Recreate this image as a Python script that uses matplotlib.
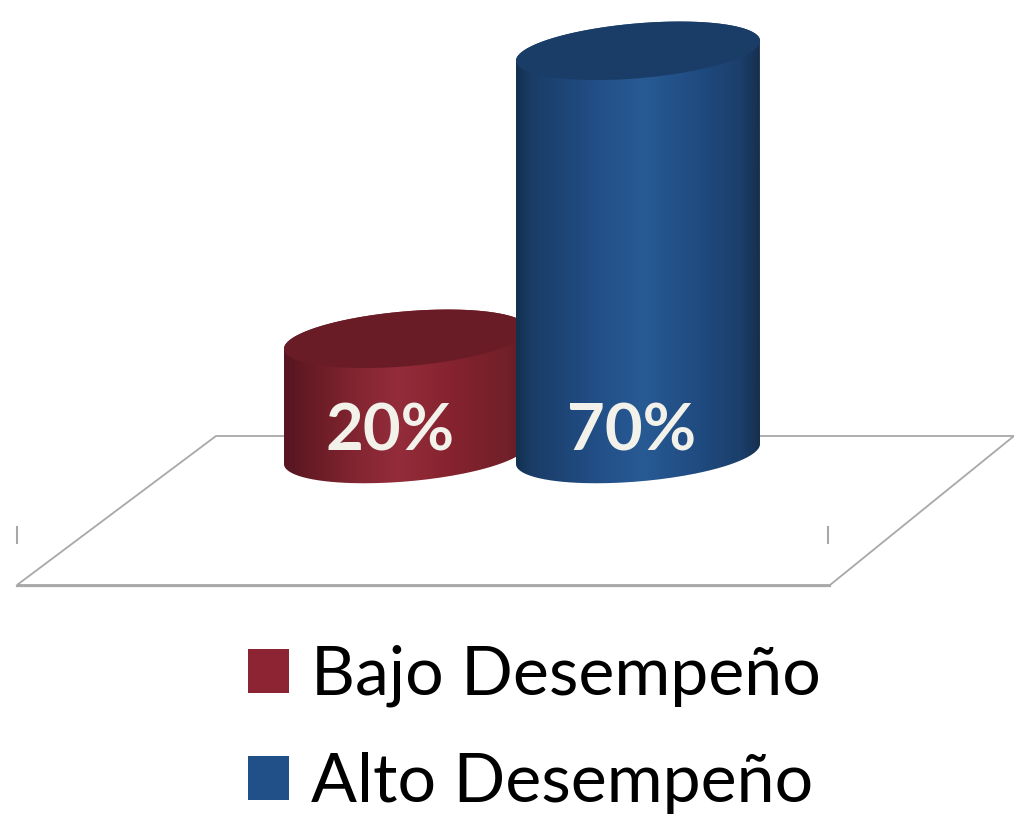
import numpy as np
import matplotlib
matplotlib.use("Agg")
import matplotlib.pyplot as plt
from matplotlib.colors import LinearSegmentedColormap
from matplotlib.patches import Polygon, Patch
from matplotlib.path import Path
from matplotlib.patches import PathPatch

categories = ["Bajo Desempeño", "Alto Desempeño"]
values = [20, 70]
value_labels = ["20%", "70%"]

plt.rcParams["font.family"] = ["Lato", "DejaVu Sans"]

W, H = 1014, 814
BASE_PX = 454
PX_PER_UNIT = 5.76


def Y(px):
    """Figure pixel row -> value units on the y axis."""
    return (BASE_PX - px) / PX_PER_UNIT


fig = plt.figure(figsize=(W / 100, H / 100), dpi=100, facecolor="white")
ax = fig.add_axes([0, 0, 1, 1])
ax.axis("off")

# Floor of the 3-D chart
floor_color = "#a8a8a8"
floor = [(17, 585), (830, 585), (1014, 436), (216, 436)]
ax.add_patch(Polygon([(x, Y(y)) for x, y in floor], closed=True, fill=False,
                     edgecolor=floor_color, linewidth=1.3, zorder=1))
ax.plot([17, 830], [Y(585.5)] * 2, color=floor_color, lw=1.6, zorder=1)
for xt in (17, 828):
    ax.plot([xt, xt], [Y(527), Y(543)], color=floor_color, lw=1.5, zorder=1)

centers = [406, 638]
half_widths = [122, 122]
shear_px = [10, 10]
label_offsets = [-16, -6]
half_minor_px = 27.5
side_stops = [
    [(0.0, "#561620"), (0.12, "#691c26"), (0.33, "#872734"), (0.47, "#942c3a"),
     (0.68, "#86232f"), (0.92, "#71202a"), (1.0, "#5e1a24")],
    [(0.0, "#12304f"), (0.06, "#1a3c66"), (0.3, "#214d84"), (0.52, "#285a94"),
     (0.75, "#1f4b80"), (0.92, "#1c3f6b"), (1.0, "#162f50")],
]
top_colors = ["#6a1c26", "#1a3d68"]
swatch_colors = ["#8c2433", "#215089"]

t = np.linspace(0, 2 * np.pi, 181)
for i, v in enumerate(values):
    cx, a, s = centers[i], half_widths[i], shear_px[i]
    z = 10 + 2 * i
    top_px = BASE_PX - v * PX_PER_UNIT

    def outline(cy, tt):
        return (cx + a * np.cos(tt),
                Y(cy - s * np.cos(tt) - half_minor_px * np.sin(tt)))

    # Side wall: front arc of the base, back arc of the top (hidden by the lid)
    bx, by = outline(BASE_PX, np.linspace(np.pi, 2 * np.pi, 91))
    tx, ty = outline(top_px, np.linspace(0, np.pi, 91))
    side = PathPatch(Path(np.column_stack([np.r_[bx, tx], np.r_[by, ty]])),
                     facecolor="none", edgecolor="none", zorder=z)
    ax.add_patch(side)
    cmap = LinearSegmentedColormap.from_list(f"side{i}", side_stops[i])
    im = ax.imshow(np.linspace(0, 1, 256)[None, :], cmap=cmap, aspect="auto",
                   extent=(cx - a, cx + a, Y(BASE_PX + 40), Y(top_px - 40)),
                   zorder=z, interpolation="bilinear")
    im.set_clip_path(side)

    ex, ey = outline(top_px, t)
    ax.fill(ex, ey, color=top_colors[i], lw=0, zorder=z + 0.5)
    ax.text(cx + label_offsets[i], Y(432), value_labels[i], color="#f2f1ea",
            fontsize=47, fontweight="bold", ha="center", va="center",
            zorder=z + 1)

ax.set_xlim(0, W)
ax.set_ylim(Y(H), Y(0))

handles = [Patch(facecolor=c, edgecolor="none", label=n)
           for c, n in zip(swatch_colors, categories)]
ax.legend(handles=handles, loc="lower left",
          bbox_to_anchor=(248 / W, 1 - 814 / H), frameon=False,
          fontsize=49, borderpad=0, borderaxespad=0, labelspacing=0.66,
          handlelength=0.6, handleheight=0.62, handletextpad=0.33)

fig.savefig("out.png", dpi=100, facecolor="white")
